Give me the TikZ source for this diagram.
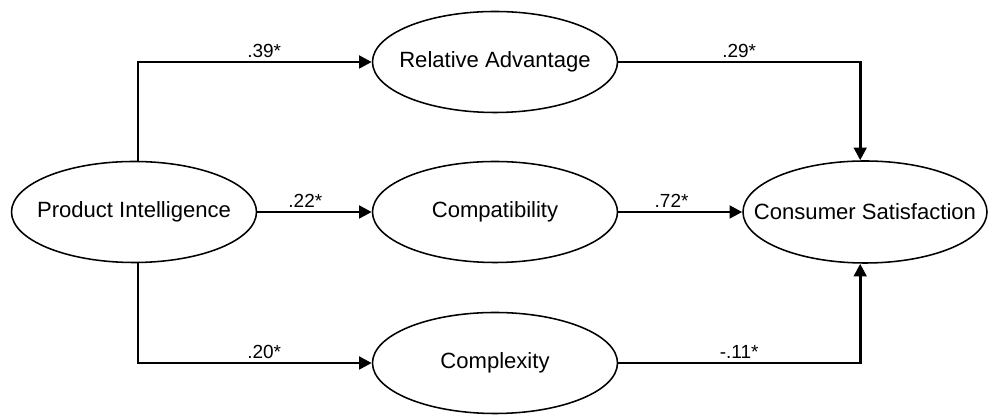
\documentclass[tikz,border=0pt]{standalone}
\usepackage{fontspec}
\setmainfont{Liberation Sans}
\usetikzlibrary{shapes.geometric,arrows.meta}

\begin{document}
\begin{tikzpicture}[
  construct/.style={ellipse, draw, line width=1.1pt, minimum width=6.125cm, minimum height=2.525cm, inner xsep=-1cm, inner ysep=0pt, font=\fontsize{15.7}{18}\selectfont},
  path/.style={line width=2pt, -{Triangle[length=9pt,width=9pt]}},
  coef/.style={midway, above, inner sep=2pt, font=\fontsize{13.5}{16}\selectfont}]
\useasboundingbox (0,0) rectangle (24.725,10.4);

\node[construct] (pi) at (3.35,5.1) {Product Intelligence};
\node[construct] (ra) at (12.375,8.85) {Relative Advantage};
\node[construct] (cp) at (12.375,5.1) {Compatibility};
\node[construct] (cx) at (12.375,1.325) {Complexity};
\node[construct, minimum width=6.1cm, minimum height=2.55cm] (cs) at (21.625,5.1) {Consumer Satisfaction};

\coordinate (piup) at ([xshift=0.1cm]pi.north);
\coordinate (pidown) at ([xshift=0.1cm]pi.south);
\coordinate (csup) at ([xshift=-0.12cm]cs.north);
\coordinate (csdown) at ([xshift=-0.12cm]cs.south);

% Product Intelligence to the three attributes
\draw[path] (piup) |- (ra.west) node[coef, pos=0.77] {.39*};
\draw[path] (pi.east) -- (cp.west) node[coef, pos=0.42] {.22*};
\draw[path] (pidown) |- (cx.west) node[coef, pos=0.77] {.20*};

% attributes to Consumer Satisfaction
\draw[path] (ra.east) -| (csup) node[coef, pos=0.25] {.29*};
\draw[path] (cp.east) -- (cs.west) node[coef, pos=0.43] {.72*};
\draw[path] (cx.east) -| (csdown) node[coef, pos=0.25] {-.11*};
\end{tikzpicture}
\end{document}
